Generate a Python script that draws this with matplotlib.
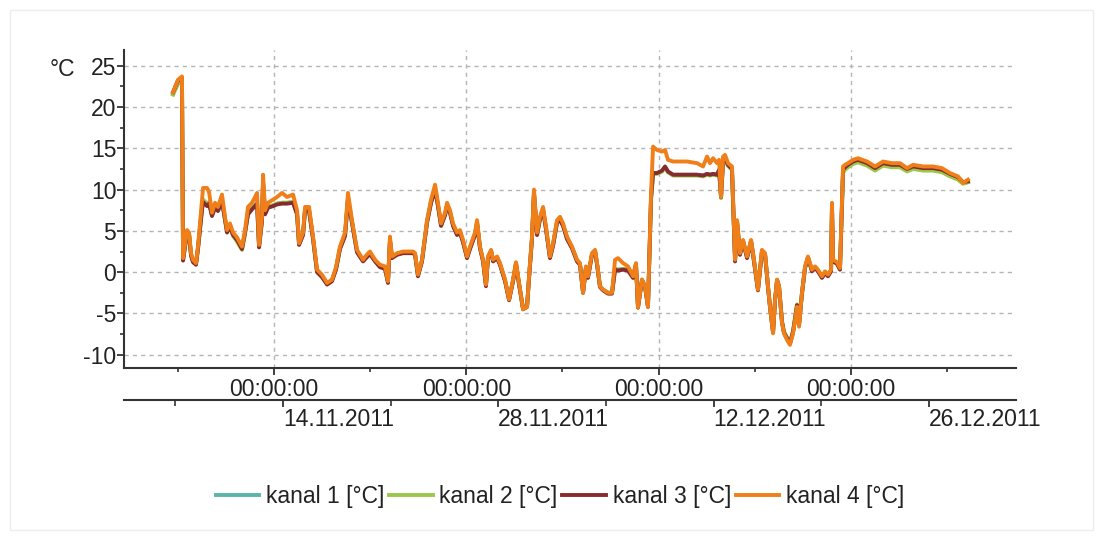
import datetime as dt
import matplotlib
matplotlib.use("Agg")
import matplotlib.pyplot as plt
from matplotlib.patches import Rectangle

plt.rcParams['font.family'] = ['Liberation Sans', 'DejaVu Sans']
plt.rcParams['axes.unicode_minus'] = False

# tiempo (dias desde el borde izquierdo del eje)
dias = [3.19, 3.51, 3.77, 3.84, 4.10, 4.23, 4.36, 4.49, 4.68, 4.81,
        5.07, 5.14, 5.40, 5.53, 5.72, 5.92, 6.11, 6.37, 6.57, 6.70,
        6.89, 7.09, 7.35, 7.67, 7.87, 8.06, 8.32, 8.52, 8.65, 8.78,
        8.97, 9.04, 9.17, 9.36, 9.69, 9.95, 10.27, 10.60, 10.99, 11.25,
        11.38, 11.64, 11.77, 12.03, 12.29, 12.55, 12.87, 13.20, 13.52, 13.78,
        14.04, 14.37, 14.56, 14.82, 15.15, 15.54, 15.73, 15.99, 16.32, 16.64,
        16.97, 17.16, 17.29, 17.42, 17.75, 18.14, 18.79, 18.92, 19.11, 19.37,
        19.70, 19.96, 20.22, 20.41, 20.61, 20.87, 21.00, 21.19, 21.39, 21.65,
        21.84, 22.04, 22.30, 22.49, 22.82, 22.95, 23.14, 23.34, 23.53, 23.66,
        23.86, 23.99, 24.25, 24.44, 24.77, 25.03, 25.29, 25.48, 25.68, 25.94,
        26.20, 26.33, 26.52, 26.65, 26.85, 27.04, 27.24, 27.43, 27.69, 27.89,
        28.15, 28.34, 28.54, 28.80, 29.12, 29.45, 29.64, 29.84, 30.03, 30.16,
        30.42, 30.62, 30.75, 30.94, 31.14, 31.46, 31.72, 31.92, 32.11, 32.44,
        32.76, 33.09, 33.28, 33.41, 33.67, 33.87, 34.06, 34.26, 34.39, 34.65,
        34.97, 35.17, 35.36, 35.69, 36.60, 37.25, 37.64, 37.90, 38.09, 38.29,
        38.55, 38.68, 38.81, 38.94, 39.07, 39.26, 39.52, 39.59, 39.72, 39.85,
        40.04, 40.24, 40.50, 40.76, 40.89, 41.21, 41.47, 41.67, 41.86, 41.99,
        42.19, 42.32, 42.45, 42.58, 42.77, 42.90, 43.10, 43.29, 43.49, 43.75,
        43.88, 44.07, 44.27, 44.46, 44.72, 44.92, 45.11, 45.37, 45.57, 45.76,
        45.96, 46.02, 46.09, 46.35, 46.54, 46.74, 46.87, 47.06, 47.39, 47.71,
        48.30, 48.82, 49.34, 49.92, 50.44, 50.90, 51.29, 51.94, 52.59, 53.17,
        53.69, 54.21, 54.54, 54.86]

kanal1 = [21.6, 23.0, 23.4, 1.5, 4.9, 4.6, 2.1, 1.3, 1.0, 2.9,
          7.7, 8.7, 8.2, 8.4, 6.9, 7.9, 7.5, 8.7, 6.4, 4.9,
          5.6, 4.5, 3.8, 2.8, 4.8, 7.1, 7.7, 8.1, 8.4, 3.1,
          6.3, 10.9, 7.1, 7.9, 8.1, 8.3, 8.4, 8.4, 8.5, 7.1,
          3.4, 4.6, 7.6, 7.5, 4.1, 0.1, -0.5, -1.4, -1.0, 0.4,
          2.9, 4.5, 8.9, 6.1, 2.5, 1.4, 1.8, 2.3, 1.4, 0.7,
          0.5, -1.2, 3.9, 1.8, 2.2, 2.4, 2.4, 2.2, -0.4, 1.4,
          6.1, 8.5, 10.1, 8.1, 5.7, 7.0, 8.1, 7.3, 5.7, 4.6,
          4.9, 3.7, 1.8, 2.9, 4.6, 6.0, 3.0, 1.4, -1.6, 1.8,
          2.6, 1.4, 1.8, 1.0, -1.0, -3.3, -1.0, 1.1, -1.4, -4.4,
          -4.1, -0.6, 4.1, 9.6, 4.6, 6.5, 7.6, 5.3, 1.8, 3.3,
          6.1, 6.4, 5.7, 4.1, 3.0, 1.4, 1.0, -2.4, 0.6, -0.6,
          2.2, 2.6, 1.0, -1.7, -2.1, -2.5, -2.5, 0.4, 0.3, 0.4,
          0.3, -0.6, 1.0, -4.2, -0.9, -1.7, -4.1, 8.9, 12.0, 12.0,
          12.2, 12.7, 12.1, 11.8, 11.8, 11.8, 11.7, 11.9, 11.8, 11.9,
          11.8, 12.3, 9.0, 13.4, 13.7, 12.9, 12.4, 8.6, 1.4, 6.1,
          2.2, 3.8, 1.8, 3.8, 2.2, -2.1, 2.6, 2.2, -1.7, -4.1,
          -7.3, -3.4, -1.0, -1.8, -6.0, -7.4, -8.1, -8.7, -7.3, -4.1,
          -6.4, -2.6, 0.6, 1.8, 0.2, 0.6, 0.2, -0.6, 0.0, -0.4,
          0.2, 7.9, 1.4, 1.1, 0.4, 12.2, 12.5, 12.8, 13.2, 13.4,
          13.0, 12.4, 13.0, 12.8, 12.8, 12.3, 12.6, 12.4, 12.4, 12.2,
          11.7, 11.3, 10.8, 10.9]

kanal2 = [21.5, 22.8, 23.2, 1.6, 4.9, 4.6, 2.1, 1.3, 1.0, 2.9,
          7.8, 8.8, 8.3, 8.5, 6.9, 7.9, 7.5, 8.7, 6.4, 4.9,
          5.6, 4.4, 3.7, 2.7, 4.7, 7.1, 7.7, 8.1, 8.4, 3.1,
          6.3, 10.9, 7.1, 7.9, 8.1, 8.3, 8.4, 8.4, 8.5, 7.1,
          3.4, 4.6, 7.6, 7.5, 4.1, 0.1, -0.5, -1.4, -1.0, 0.4,
          2.9, 4.5, 8.9, 6.1, 2.5, 1.4, 1.8, 2.3, 1.4, 0.7,
          0.5, -1.2, 3.9, 1.8, 2.2, 2.4, 2.4, 2.2, -0.4, 1.4,
          6.1, 8.5, 10.1, 8.1, 5.7, 7.0, 8.1, 7.3, 5.7, 4.6,
          4.9, 3.7, 1.8, 2.9, 4.6, 6.0, 3.0, 1.4, -1.6, 1.8,
          2.6, 1.4, 1.8, 1.0, -1.0, -3.3, -1.0, 1.1, -1.4, -4.4,
          -4.1, -0.6, 4.1, 9.6, 4.6, 6.5, 7.6, 5.3, 1.8, 3.3,
          6.1, 6.4, 5.7, 4.1, 3.0, 1.4, 1.0, -2.4, 0.6, -0.6,
          2.2, 2.6, 1.0, -1.7, -2.1, -2.5, -2.5, 0.4, 0.3, 0.4,
          0.3, -0.6, 1.0, -4.2, -0.9, -1.7, -4.1, 8.8, 11.9, 11.9,
          12.2, 12.7, 12.1, 11.7, 11.7, 11.7, 11.6, 11.8, 11.7, 11.8,
          11.7, 12.3, 9.0, 13.4, 13.7, 12.9, 12.4, 8.5, 1.4, 6.1,
          2.2, 3.8, 1.8, 3.8, 2.2, -2.1, 2.6, 2.2, -1.7, -4.1,
          -7.2, -3.3, -0.9, -1.7, -5.9, -7.2, -7.9, -8.5, -7.1, -3.9,
          -6.2, -2.5, 0.6, 1.8, 0.2, 0.6, 0.2, -0.6, 0.0, -0.4,
          0.2, 7.8, 1.4, 1.1, 0.4, 12.0, 12.4, 12.7, 13.1, 13.3,
          12.9, 12.3, 12.9, 12.7, 12.7, 12.2, 12.5, 12.3, 12.3, 12.1,
          11.6, 11.2, 10.7, 10.9]

kanal3 = [21.8, 23.2, 23.5, 1.4, 4.8, 4.5, 2.0, 1.2, 0.9, 2.8,
          7.5, 8.5, 8.0, 8.3, 6.8, 7.8, 7.4, 8.6, 6.3, 4.8,
          5.5, 4.5, 3.9, 2.8, 4.8, 7.0, 7.6, 8.0, 8.3, 3.0,
          6.2, 10.8, 7.0, 7.8, 8.0, 8.2, 8.3, 8.3, 8.4, 7.0,
          3.3, 4.5, 7.5, 7.4, 4.0, 0.0, -0.6, -1.5, -1.1, 0.3,
          2.8, 4.4, 8.8, 6.0, 2.4, 1.3, 1.7, 2.2, 1.3, 0.6,
          0.4, -1.3, 3.8, 1.7, 2.1, 2.3, 2.3, 2.1, -0.5, 1.3,
          6.0, 8.4, 10.0, 8.0, 5.6, 6.9, 8.0, 7.2, 5.6, 4.5,
          4.8, 3.6, 1.7, 2.8, 4.5, 5.9, 2.9, 1.3, -1.7, 1.7,
          2.5, 1.3, 1.7, 0.9, -1.1, -3.4, -1.1, 1.0, -1.5, -4.5,
          -4.2, -0.7, 4.0, 9.5, 4.5, 6.4, 7.5, 5.2, 1.7, 3.2,
          6.0, 6.3, 5.6, 4.0, 2.9, 1.3, 0.9, -2.5, 0.5, -0.7,
          2.1, 2.5, 0.9, -1.8, -2.2, -2.6, -2.6, 0.3, 0.2, 0.3,
          0.2, -0.7, 0.9, -4.3, -1.0, -1.8, -4.2, 9.0, 12.0, 12.0,
          12.3, 12.8, 12.2, 11.8, 11.8, 11.8, 11.7, 11.9, 11.8, 11.9,
          11.8, 12.4, 9.1, 13.5, 13.8, 13.0, 12.5, 8.6, 1.3, 6.0,
          2.1, 3.7, 1.7, 3.7, 2.1, -2.2, 2.5, 2.1, -1.8, -4.2,
          -7.3, -3.4, -1.0, -1.8, -6.0, -7.3, -8.0, -8.6, -7.2, -4.0,
          -6.3, -2.6, 0.5, 1.7, 0.1, 0.5, 0.1, -0.7, -0.1, -0.5,
          0.1, 8.0, 1.3, 1.0, 0.3, 12.4, 12.7, 13.0, 13.4, 13.6,
          13.2, 12.6, 13.2, 13.0, 13.0, 12.5, 12.8, 12.6, 12.6, 12.4,
          11.9, 11.5, 10.9, 11.0]

kanal4 = [21.8, 23.3, 23.7, 1.7, 5.1, 4.8, 2.3, 1.5, 1.1, 3.1,
          8.7, 10.2, 10.2, 9.7, 7.2, 8.4, 7.9, 9.4, 6.7, 5.1,
          5.9, 4.8, 4.2, 3.1, 5.1, 7.9, 8.4, 9.1, 9.6, 3.3,
          6.7, 11.8, 7.5, 8.4, 8.8, 9.1, 9.6, 9.1, 9.4, 7.5,
          3.5, 4.8, 7.9, 7.9, 4.3, 0.3, -0.3, -1.3, -0.9, 0.6,
          3.1, 4.8, 9.6, 6.3, 2.7, 1.5, 2.0, 2.5, 1.5, 0.9,
          0.7, -1.1, 4.3, 1.9, 2.3, 2.5, 2.5, 2.3, -0.3, 1.5,
          6.3, 8.8, 10.6, 8.4, 5.9, 7.2, 8.4, 7.5, 5.9, 4.8,
          5.1, 3.9, 1.9, 3.1, 4.8, 6.3, 3.1, 1.5, -1.5, 1.9,
          2.7, 1.5, 1.9, 1.1, -0.9, -3.3, -0.9, 1.2, -1.3, -4.5,
          -4.2, -0.5, 4.3, 10.0, 4.8, 6.7, 7.9, 5.5, 1.9, 3.5,
          6.3, 6.7, 5.9, 4.3, 3.1, 1.5, 1.1, -2.5, 0.7, -0.5,
          2.3, 2.7, 1.1, -1.7, -2.1, -2.5, -2.5, 1.5, 1.7, 1.1,
          0.7, -0.5, 1.1, -4.3, -0.9, -1.7, -4.2, 9.6, 15.2, 14.8,
          14.6, 14.8, 13.6, 13.4, 13.4, 13.2, 12.8, 14.0, 13.2, 13.8,
          13.2, 13.6, 9.1, 14.0, 14.2, 13.2, 12.8, 8.8, 1.5, 6.3,
          2.3, 3.9, 1.9, 3.9, 2.3, -2.1, 2.7, 2.3, -1.7, -4.2,
          -7.4, -3.3, -0.9, -1.7, -6.1, -7.4, -8.2, -8.8, -7.4, -4.2,
          -6.6, -2.5, 0.7, 1.9, 0.3, 0.7, 0.3, -0.5, 0.1, -0.3,
          0.3, 8.4, 1.5, 1.2, 0.5, 12.8, 13.0, 13.2, 13.6, 13.8,
          13.4, 12.8, 13.4, 13.2, 13.2, 12.6, 13.0, 12.8, 12.8, 12.6,
          12.0, 11.6, 10.8, 11.2]

etiquetas = ['kanal 1 [°C]', 'kanal 2 [°C]', 'kanal 3 [°C]', 'kanal 4 [°C]']
colores = ['#5ab5a8', '#9bc84b', '#862c2e', '#f07f1a']

# ejes de hora y fecha
marcas_hora = [9.75, 22.25, 34.75, 47.25]
marcas_hora_menor = [3.5, 16.0, 28.5, 41.0, 53.5]
fechas = ['14.11.2011', '28.11.2011', '12.12.2011', '26.12.2011']
inicio = dt.datetime(2011, 11, 3, 16, 0)

fig = plt.figure(figsize=(11.03, 5.39), dpi=100)
fig.patches.append(Rectangle((10 / 1103, 9 / 539), 1083 / 1103, 520 / 539,
                             transform=fig.transFigure, fill=False,
                             edgecolor='#eeeeee', lw=1))

ax = fig.add_axes([0.1124, 0.3173, 0.8087, 0.5899])
for serie, c, lab in zip([kanal1, kanal2, kanal3, kanal4], colores, etiquetas):
    ax.plot(dias, serie, color=c, lw=2.8, label=lab, solid_joinstyle='round')

ax.set_xlim(0, 57.98)
ax.set_ylim(-11.6, 26.9)
ax.set_yticks(list(range(-10, 30, 5)))
ax.set_yticks([-7.5, -2.5, 2.5, 7.5, 12.5, 17.5, 22.5], minor=True)
ax.set_xticks(marcas_hora, labels=['00:00:00'] * len(marcas_hora))
ax.set_xticks(marcas_hora_menor, minor=True)

for s in ['top', 'right']:
    ax.spines[s].set_visible(False)
for s in ['left', 'bottom']:
    ax.spines[s].set_linewidth(1.5)
    ax.spines[s].set_color('#333333')

ax.grid(True, which='major', color='#b5b5b5', linestyle=(0, (3, 3)), lw=1.0)
ax.tick_params(axis='both', which='major', labelsize=16.5, labelcolor='#222222',
               length=5, width=1.3, color='#333333')
ax.tick_params(axis='both', which='minor', length=3, width=1.2, color='#333333')
ax.tick_params(axis='y', pad=0.5)
ax.tick_params(axis='x', pad=2)

# segundo eje con fechas
sec = ax.secondary_xaxis(-0.1006)
pos_fechas = [(dt.datetime.strptime(f, '%d.%m.%Y') - inicio).total_seconds() / 86400
              for f in fechas]
sec.set_xticks(pos_fechas, labels=fechas)
sec.set_xticks([p - 7 for p in pos_fechas], minor=True)
for lbl in sec.get_xticklabels():
    lbl.set_horizontalalignment('left')
sec.spines['bottom'].set_linewidth(1.5)
sec.spines['bottom'].set_color('#333333')
sec.tick_params(axis='x', which='major', labelsize=16.5, labelcolor='#222222',
                length=5, width=1.3, color='#333333', pad=1)
sec.tick_params(axis='x', which='minor', length=4, width=1.2, color='#333333')

fig.text(62 / 1103, 1 - 69 / 539, '°C', fontsize=16.5, color='#222222',
         ha='center', va='center')

fig.legend(loc='center', bbox_to_anchor=(560 / 1103, 1 - 497 / 539), ncol=4,
           frameon=False, fontsize=16.5, handlelength=1.9, handletextpad=0.3,
           columnspacing=0.2, labelcolor='#222222')

fig.savefig('out.png', dpi=100)
